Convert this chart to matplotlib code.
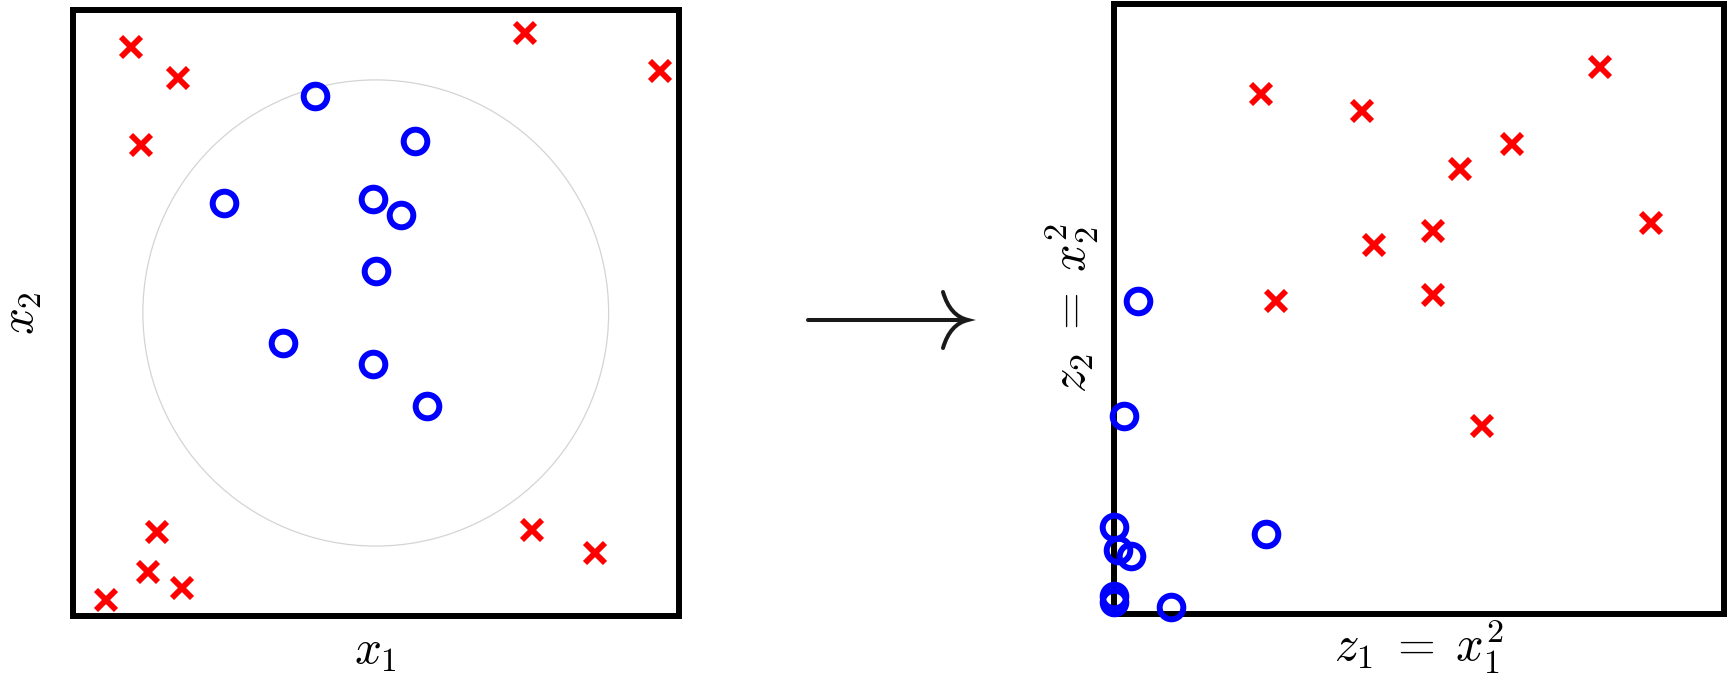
import matplotlib
matplotlib.use("Agg")
import matplotlib.pyplot as plt
import numpy as np
from matplotlib.patches import Circle, PathPatch
from matplotlib.path import Path
from matplotlib.lines import Line2D

plt.rcParams['mathtext.fontset'] = 'cm'

# points in the original space (x1, x2)
red_x1 = [-1.05, -0.85, 0.64, 1.22, -1.01, -0.94, -0.98, -0.83, -1.16, 0.67, 0.94]
red_x2 = [1.14, 1.01, 1.20, 1.04, 0.72, -0.94, -1.11, -1.18, -1.23, -0.93, -1.03]
blue_x1 = [-0.26, 0.17, -0.65, -0.01, 0.11, 0.0, -0.40, -0.01, 0.22]
blue_x2 = [0.93, 0.74, 0.47, 0.49, 0.42, 0.18, -0.13, -0.22, -0.40]
circle_r = 1.0
lim = 1.3

W, H = 1727, 678
fig = plt.figure(figsize=(W / 100, H / 100), dpi=100)

def px_rect(x0, y0, x1, y1):
    return [x0 / W, 1 - y1 / H, (x1 - x0) / W, (y1 - y0) / H]

ax1 = fig.add_axes(px_rect(73, 10, 678.5, 616))
ax2 = fig.add_axes(px_rect(1113.5, 3.5, 1724, 613.5))

red_kw = dict(ls='none', marker='x', ms=14, mew=4.2, color='#ff0000', clip_on=False, zorder=3)
blue_kw = dict(ls='none', marker='o', ms=17, mew=4.3, mfc='none', mec='#0000ff', clip_on=False, zorder=3)

# left: original space
ax1.add_patch(Circle((0, 0), circle_r, fill=False, ec='#d4d4d4', lw=0.9))
ax1.plot(red_x1, red_x2, **red_kw)
ax1.plot(blue_x1, blue_x2, **blue_kw)
ax1.set_xlim(-lim, lim)
ax1.set_ylim(-lim, lim)
ax1.set_xlabel(r'$x_1$', fontsize=34, labelpad=9)
ax1.set_ylabel(r'$x_2$', fontsize=34, labelpad=21)

# right: feature space z = x^2
rx = np.array(red_x1) ** 2
ry = np.array(red_x2) ** 2
bx = np.array(blue_x1) ** 2
by = np.array(blue_x2) ** 2
ax2.plot(rx, ry, **red_kw)
ax2.plot(bx, by, **blue_kw)
ax2.set_xlim(0, lim ** 2)
ax2.set_ylim(0, lim ** 2)
ax2.set_xlabel(r'$z_1\;=\;x_1^2$', fontsize=35, labelpad=3)
ax2.set_ylabel(r'$z_2\;=\;x_2^2$', fontsize=35, labelpad=9)

for ax in (ax1, ax2):
    ax.set_xticks([])
    ax.set_yticks([])
    for sp in ax.spines.values():
        sp.set_linewidth(4.3)
        sp.set_color('black')
        sp.set_capstyle('projecting')

# arrow between the panels
def fp(x, y):
    return (x / W, 1 - y / H)

fig.add_artist(Line2D([fp(808, 320)[0], fp(966, 320)[0]], [fp(808, 320)[1], fp(966, 320)[1]],
                      transform=fig.transFigure, color='#1a1a1a', lw=2.9, solid_capstyle='round'))
head = Path([fp(943, 292), fp(950, 316), fp(968, 320), fp(950, 324), fp(943, 348)],
            [Path.MOVETO, Path.CURVE3, Path.CURVE3, Path.CURVE3, Path.CURVE3])
fig.add_artist(PathPatch(head, transform=fig.transFigure, fill=False, ec='#1a1a1a', lw=2.9,
                         capstyle='round'))

fig.savefig('out.png', dpi=100)
